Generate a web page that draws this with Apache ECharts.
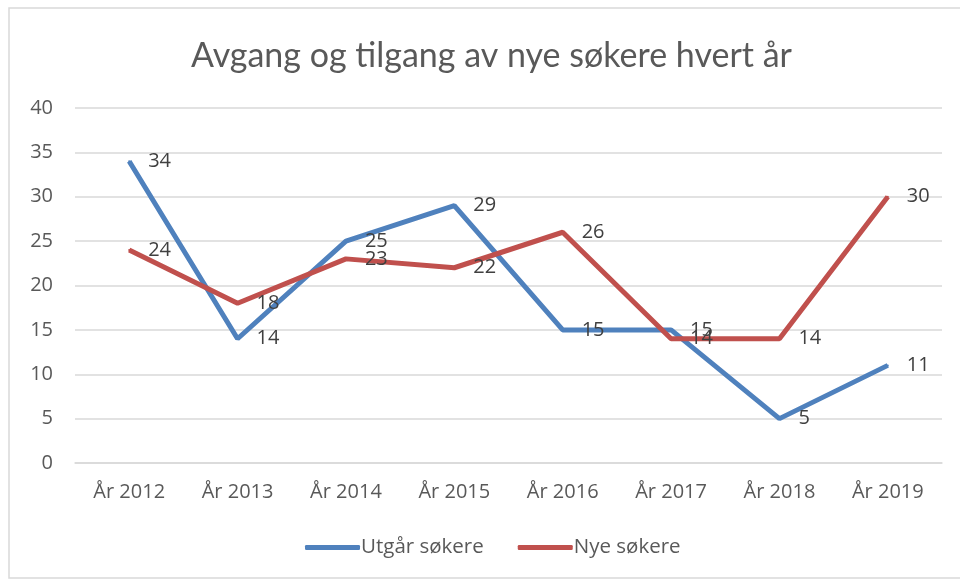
<!DOCTYPE html>
<html lang="no">
<head>
    <meta charset="UTF-8">
    <style>
        html, body { margin: 0; padding: 0; background: #fff; }
        #main { width: 960px; height: 581px; }
    </style>
    <script src="https://cdn.jsdelivr.net/npm/echarts@6/dist/echarts.min.js"></script>
    <title>Avgang og tilgang</title>
</head>
<body>
    <div id="main"></div>
    <script>
        var years = ['År 2012', 'År 2013', 'År 2014', 'År 2015', 'År 2016', 'År 2017', 'År 2018', 'År 2019'];
        var utgar = [34, 14, 25, 29, 15, 15, 5, 11];
        var nye = [24, 18, 23, 22, 26, 14, 14, 30];

        var titleFont = 'Lato';
        var font = 'Open Sans';
        var grey = '#595959';

        var myChart = echarts.init(document.getElementById('main'));
        var lbl = {
            show: true,
            position: 'right',
            distance: 18,
            color: '#404040',
            fontSize: 20,
            fontFamily: font,
            padding: [4, 0, 0, 0]
        };
        var option = {
            animation: false,
            graphic: [{
                type: 'rect',
                shape: { x: 9, y: 8, width: 960, height: 570 },
                style: { fill: 'none', stroke: '#d9d9d9', lineWidth: 1.5 },
                silent: true
            }],
            title: {
                text: 'Avgang og tilgang av nye søkere hvert år',
                left: 186,
                top: 34,
                textStyle: { color: grey, fontSize: 34, fontWeight: 'normal', fontFamily: titleFont }
            },
            legend: {
                bottom: 18,
                left: 300,
                itemWidth: 55,
                itemHeight: 5,
                itemGap: 34,
                icon: 'roundRect',
                textStyle: { color: grey, fontSize: 20.5, fontFamily: font, padding: [0, 0, 0, -4] },
                data: ['Utgår søkere', 'Nye søkere']
            },
            grid: { left: 75, right: 18, top: 108, bottom: 118, containLabel: false },
            xAxis: {
                type: 'category',
                data: years,
                axisLine: { lineStyle: { color: '#d9d9d9', width: 1.5 } },
                axisTick: { show: false },
                axisLabel: { color: grey, fontSize: 20, fontFamily: font, margin: 19 }
            },
            yAxis: {
                type: 'value',
                min: 0, max: 40, interval: 5,
                axisLine: { show: false },
                axisTick: { show: false },
                splitLine: { lineStyle: { color: '#d9d9d9', width: 1.5 } },
                axisLabel: { color: grey, fontSize: 20, fontFamily: font, margin: 22 }
            },
            series: [{
                name: 'Utgår søkere',
                type: 'line',
                data: utgar,
                symbol: 'circle',
                symbolSize: 2,
                showSymbol: true,
                color: '#4F81BD',
                lineStyle: { width: 5, color: '#4F81BD' },
                label: lbl
            }, {
                name: 'Nye søkere',
                type: 'line',
                data: nye,
                symbol: 'circle',
                symbolSize: 2,
                showSymbol: true,
                color: '#C0504D',
                lineStyle: { width: 5, color: '#C0504D' },
                label: lbl
            }]
        };
        myChart.setOption(option);
    </script>
</body>
</html>
